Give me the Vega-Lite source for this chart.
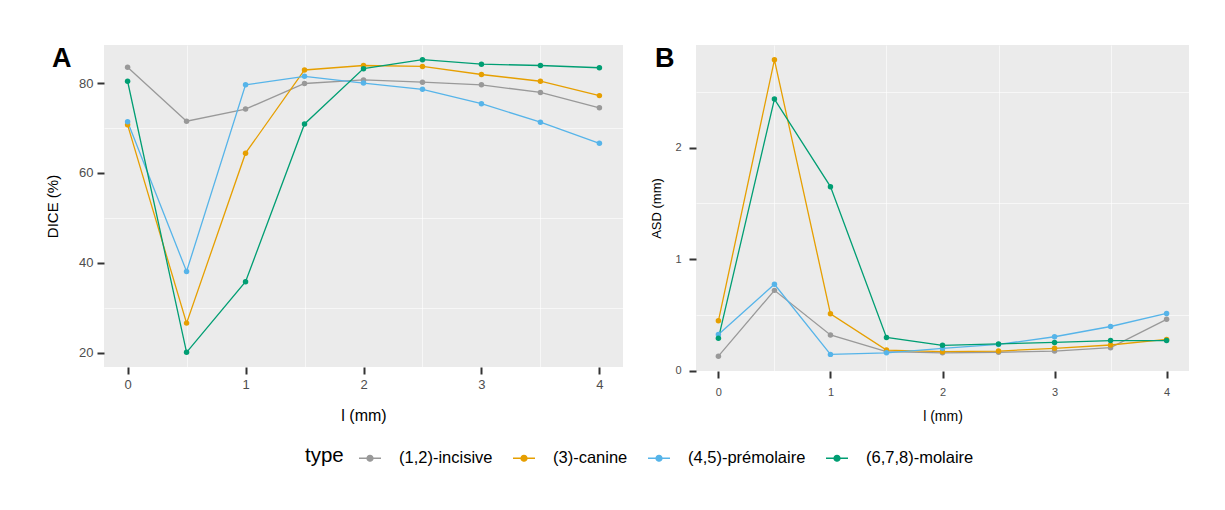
{
  "$schema": "https://vega.github.io/schema/vega-lite/v6.json",
  "background": "white",
  "padding": {"left": 45, "top": 45, "right": 30, "bottom": 40},
  "datasets": {
    "dice": [
      {"type": "(1,2)-incisive", "l": 0, "v": 83.5}, {"type": "(1,2)-incisive", "l": 0.5, "v": 71.5}, {"type": "(1,2)-incisive", "l": 1, "v": 74.2}, {"type": "(1,2)-incisive", "l": 1.5, "v": 79.9}, {"type": "(1,2)-incisive", "l": 2, "v": 80.7}, {"type": "(1,2)-incisive", "l": 2.5, "v": 80.2}, {"type": "(1,2)-incisive", "l": 3, "v": 79.6}, {"type": "(1,2)-incisive", "l": 3.5, "v": 77.9}, {"type": "(1,2)-incisive", "l": 4, "v": 74.5},
      {"type": "(3)-canine", "l": 0, "v": 70.7}, {"type": "(3)-canine", "l": 0.5, "v": 26.6}, {"type": "(3)-canine", "l": 1, "v": 64.4}, {"type": "(3)-canine", "l": 1.5, "v": 82.9}, {"type": "(3)-canine", "l": 2, "v": 83.9}, {"type": "(3)-canine", "l": 2.5, "v": 83.7}, {"type": "(3)-canine", "l": 3, "v": 81.9}, {"type": "(3)-canine", "l": 3.5, "v": 80.4}, {"type": "(3)-canine", "l": 4, "v": 77.2},
      {"type": "(4,5)-prémolaire", "l": 0, "v": 71.4}, {"type": "(4,5)-prémolaire", "l": 0.5, "v": 38.1}, {"type": "(4,5)-prémolaire", "l": 1, "v": 79.6}, {"type": "(4,5)-prémolaire", "l": 1.5, "v": 81.5}, {"type": "(4,5)-prémolaire", "l": 2, "v": 80.0}, {"type": "(4,5)-prémolaire", "l": 2.5, "v": 78.6}, {"type": "(4,5)-prémolaire", "l": 3, "v": 75.4}, {"type": "(4,5)-prémolaire", "l": 3.5, "v": 71.3}, {"type": "(4,5)-prémolaire", "l": 4, "v": 66.6},
      {"type": "(6,7,8)-molaire", "l": 0, "v": 80.4}, {"type": "(6,7,8)-molaire", "l": 0.5, "v": 20.1}, {"type": "(6,7,8)-molaire", "l": 1, "v": 35.8}, {"type": "(6,7,8)-molaire", "l": 1.5, "v": 70.9}, {"type": "(6,7,8)-molaire", "l": 2, "v": 83.2}, {"type": "(6,7,8)-molaire", "l": 2.5, "v": 85.2}, {"type": "(6,7,8)-molaire", "l": 3, "v": 84.2}, {"type": "(6,7,8)-molaire", "l": 3.5, "v": 83.9}, {"type": "(6,7,8)-molaire", "l": 4, "v": 83.4}
    ],
    "asd": [
      {"type": "(1,2)-incisive", "l": 0, "v": 0.13}, {"type": "(1,2)-incisive", "l": 0.5, "v": 0.72}, {"type": "(1,2)-incisive", "l": 1, "v": 0.32}, {"type": "(1,2)-incisive", "l": 1.5, "v": 0.17}, {"type": "(1,2)-incisive", "l": 2, "v": 0.16}, {"type": "(1,2)-incisive", "l": 2.5, "v": 0.165}, {"type": "(1,2)-incisive", "l": 3, "v": 0.176}, {"type": "(1,2)-incisive", "l": 3.5, "v": 0.206}, {"type": "(1,2)-incisive", "l": 4, "v": 0.46},
      {"type": "(3)-canine", "l": 0, "v": 0.447}, {"type": "(3)-canine", "l": 0.5, "v": 2.787}, {"type": "(3)-canine", "l": 1, "v": 0.51}, {"type": "(3)-canine", "l": 1.5, "v": 0.185}, {"type": "(3)-canine", "l": 2, "v": 0.17}, {"type": "(3)-canine", "l": 2.5, "v": 0.176}, {"type": "(3)-canine", "l": 3, "v": 0.2}, {"type": "(3)-canine", "l": 3.5, "v": 0.23}, {"type": "(3)-canine", "l": 4, "v": 0.28},
      {"type": "(4,5)-prémolaire", "l": 0, "v": 0.325}, {"type": "(4,5)-prémolaire", "l": 0.5, "v": 0.775}, {"type": "(4,5)-prémolaire", "l": 1, "v": 0.146}, {"type": "(4,5)-prémolaire", "l": 1.5, "v": 0.16}, {"type": "(4,5)-prémolaire", "l": 2, "v": 0.2}, {"type": "(4,5)-prémolaire", "l": 2.5, "v": 0.235}, {"type": "(4,5)-prémolaire", "l": 3, "v": 0.304}, {"type": "(4,5)-prémolaire", "l": 3.5, "v": 0.396}, {"type": "(4,5)-prémolaire", "l": 4, "v": 0.513},
      {"type": "(6,7,8)-molaire", "l": 0, "v": 0.29}, {"type": "(6,7,8)-molaire", "l": 0.5, "v": 2.435}, {"type": "(6,7,8)-molaire", "l": 1, "v": 1.65}, {"type": "(6,7,8)-molaire", "l": 1.5, "v": 0.298}, {"type": "(6,7,8)-molaire", "l": 2, "v": 0.227}, {"type": "(6,7,8)-molaire", "l": 2.5, "v": 0.24}, {"type": "(6,7,8)-molaire", "l": 3, "v": 0.253}, {"type": "(6,7,8)-molaire", "l": 3.5, "v": 0.27}, {"type": "(6,7,8)-molaire", "l": 4, "v": 0.27}
    ]
  },
  "spacing": 27,
  "hconcat": [
    {
      "width": 519,
      "height": 322,
      "title": {"text": "A", "anchor": "start", "frame": "group", "fontSize": 27, "fontWeight": "bold", "color": "black", "dx": -52, "dy": 28, "offset": 0},
      "data": {"name": "dice"},
      "layer": [
        {
          "mark": {"type": "line", "opacity": 0},
          "encoding": {
            "x": {"field": "l", "type": "quantitative", "scale": {"domain": [-0.2, 4.2], "nice": false, "zero": false},
                  "axis": {"orient": "top", "values": [0.5, 1.5, 2.5, 3.5], "grid": true, "gridWidth": 0.6, "labels": false, "ticks": false, "title": null}},
            "y": {"field": "v", "type": "quantitative", "scale": {"domain": [16.84, 88.46], "nice": false, "zero": false},
                  "axis": {"orient": "right", "values": [30, 50, 70], "grid": true, "gridWidth": 0.6, "labels": false, "ticks": false, "title": null}},
            "detail": {"field": "type"}
          }
        },
        {
          "mark": {"type": "line", "strokeWidth": 1.3},
          "encoding": {
            "x": {"field": "l", "type": "quantitative", "axis": {"orient": "bottom", "values": [0, 1, 2, 3, 4], "ticks": true, "tickSize": 7, "tickWidth": 2, "tickColor": "#333333", "title": "l (mm)", "labelFontSize": 13, "labelPadding": 4, "titleFontSize": 16, "titlePadding": 16}},
            "y": {"field": "v", "type": "quantitative", "axis": {"orient": "left", "values": [20, 40, 60, 80], "ticks": true, "tickSize": 7, "tickWidth": 2, "tickColor": "#333333", "title": "DICE (%)", "labelFontSize": 13, "labelPadding": 4, "titleFontSize": 15, "titlePadding": 18}},
            "color": {"field": "type", "type": "nominal", "scale": {"domain": ["(1,2)-incisive", "(3)-canine", "(4,5)-prémolaire", "(6,7,8)-molaire"], "range": ["#999999", "#E69F00", "#56B4E9", "#009E73"]}}
          }
        },
        {
          "mark": {"type": "point", "filled": true, "size": 30, "opacity": 1},
          "encoding": {
            "x": {"field": "l", "type": "quantitative", "axis": null},
            "y": {"field": "v", "type": "quantitative", "axis": null},
            "color": {"field": "type", "type": "nominal", "scale": {"domain": ["(1,2)-incisive", "(3)-canine", "(4,5)-prémolaire", "(6,7,8)-molaire"], "range": ["#999999", "#E69F00", "#56B4E9", "#009E73"]}}
          }
        }
      ],
      "resolve": {"axis": {"x": "independent", "y": "independent"}}
    },
    {
      "width": 493,
      "height": 326,
      "title": {"text": "B", "anchor": "start", "frame": "group", "fontSize": 27, "fontWeight": "bold", "color": "black", "dx": -41, "dy": 28, "offset": 0},
      "data": {"name": "asd"},
      "layer": [
        {
          "mark": {"type": "line", "opacity": 0},
          "encoding": {
            "x": {"field": "l", "type": "quantitative", "scale": {"domain": [-0.2, 4.2], "nice": false, "zero": false},
                  "axis": {"orient": "top", "values": [0.5, 1.5, 2.5, 3.5], "grid": true, "gridWidth": 0.6, "labels": false, "ticks": false, "title": null}},
            "y": {"field": "v", "type": "quantitative", "scale": {"domain": [-0.003, 2.92], "nice": false, "zero": false},
                  "axis": {"orient": "right", "values": [0.5, 1.5, 2.5], "grid": true, "gridWidth": 0.6, "labels": false, "ticks": false, "title": null}},
            "detail": {"field": "type"}
          }
        },
        {
          "mark": {"type": "line", "strokeWidth": 1.3},
          "encoding": {
            "x": {"field": "l", "type": "quantitative", "axis": {"orient": "bottom", "values": [0, 1, 2, 3, 4], "ticks": true, "tickSize": 7, "tickWidth": 2, "tickColor": "#333333", "title": "l (mm)", "labelFontSize": 11, "labelPadding": 8, "titleFontSize": 14, "titlePadding": 12}},
            "y": {"field": "v", "type": "quantitative", "axis": {"orient": "left", "values": [0, 1, 2], "ticks": true, "tickSize": 7, "tickWidth": 2, "tickColor": "#333333", "title": "ASD (mm)", "labelFontSize": 11, "labelPadding": 8, "titleFontSize": 13, "titlePadding": 11}},
            "color": {"field": "type", "type": "nominal", "scale": {"domain": ["(1,2)-incisive", "(3)-canine", "(4,5)-prémolaire", "(6,7,8)-molaire"], "range": ["#999999", "#E69F00", "#56B4E9", "#009E73"]}}
          }
        },
        {
          "mark": {"type": "point", "filled": true, "size": 30, "opacity": 1},
          "encoding": {
            "x": {"field": "l", "type": "quantitative", "axis": null},
            "y": {"field": "v", "type": "quantitative", "axis": null},
            "color": {"field": "type", "type": "nominal", "scale": {"domain": ["(1,2)-incisive", "(3)-canine", "(4,5)-prémolaire", "(6,7,8)-molaire"], "range": ["#999999", "#E69F00", "#56B4E9", "#009E73"]}}
          }
        }
      ],
      "resolve": {"axis": {"x": "independent", "y": "independent"}}
    }
  ],
  "resolve": {"scale": {"color": "shared"}, "legend": {"color": "shared"}},
  "config": {
    "font": "Liberation Sans",
    "view": {"fill": "#EBEBEB", "stroke": null},
    "axis": {"domain": false, "grid": true, "gridColor": "white", "gridWidth": 1.2, "tickColor": "#333333", "tickSize": 7, "tickWidth": 2, "labelColor": "#4D4D4D", "titleColor": "black", "titleFontWeight": "normal"},
    "legend": {
      "orient": "none",
      "legendX": 201,
      "legendY": 401,
      "direction": "horizontal",
      "titleOrient": "left",
      "titleFontSize": 20.5,
      "titleFontWeight": "normal",
      "titleColor": "black",
      "titlePadding": 14,
      "labelFontSize": 16.5,
      "labelColor": "black",
      "labelOffset": 17,
      "columnPadding": 17,
      "symbolType": "M-1,0H1M-0.27,0A0.27,0.27 0 1,0 0.27,0A0.27,0.27 0 1,0 -0.27,0Z",
      "symbolSize": 484,
      "symbolStrokeWidth": 1.3
    }
  }
}
